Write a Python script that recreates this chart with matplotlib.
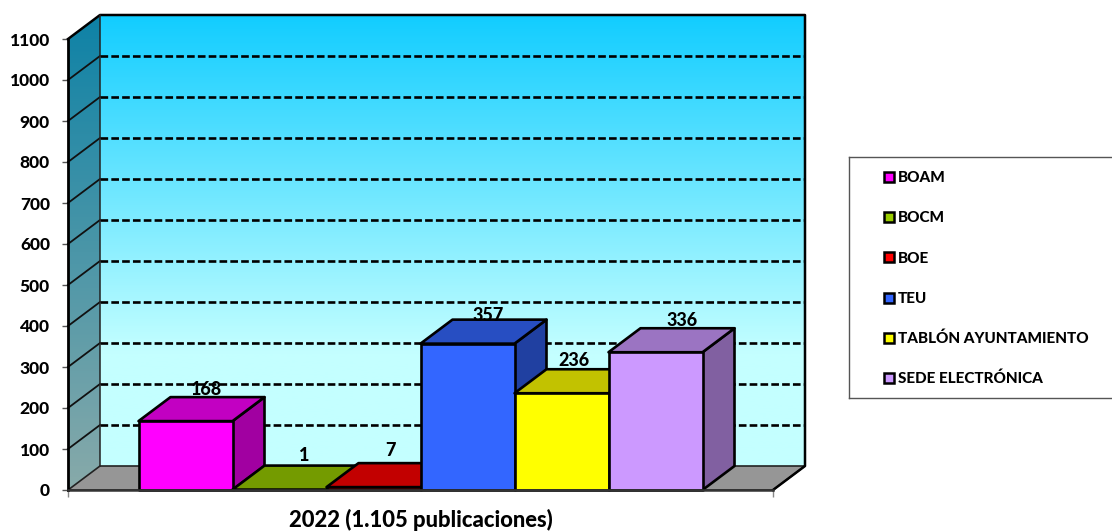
import numpy as np
import matplotlib
matplotlib.use("Agg")
import matplotlib.pyplot as plt
from matplotlib.colors import LinearSegmentedColormap, to_rgb
from matplotlib.patches import Polygon, Rectangle

plt.rcParams["font.family"] = ["Lato", "DejaVu Sans"]
plt.rcParams["font.weight"] = 900

CATEGORIES = ["BOAM", "BOCM", "BOE", "TEU", "TABLÓN AYUNTAMIENTO", "SEDE ELECTRÓNICA"]
VALUES = [168, 1, 7, 357, 236, 336]
COLORS = ["#FF00FF", "#99CC00", "#FF0000", "#3366FF", "#FFFF00", "#CC99FF"]
Y_TICKS = list(range(0, 1101, 100))
X_LABEL = "2022 (1.105 publicaciones)"

W, H = 1112, 531
YMAX = 1100
XMAX = 7.5       # six bars plus a margin of 0.75 on each side
DX = 32 / 94     # depth of the 3D effect, in data units
DY = 24 / 0.41
LABEL_NUDGE = [0.22, 0.26, 0.18, 0.22, 0.13, 0.28]
LABEL_LIFT = [18, 25, 30, 11, 22, 18]


def shade(color, k):
    return tuple(c * k for c in to_rgb(color))


def draw_walls(ax):
    back = LinearSegmentedColormap.from_list(
        "back", [(0, "#C4FFFF"), (0.25, "#C4FFFF"), (1, "#12CDFF")])
    side = LinearSegmentedColormap.from_list("side", ["#88AAAA", "#0E82A6"])
    grad = np.linspace(1, 0, 256).reshape(-1, 1)

    ax.imshow(grad, cmap=back, aspect="auto", zorder=1, clip_on=False,
              extent=(DX, XMAX + DX, DY, YMAX + DY))
    im = ax.imshow(grad, cmap=side, aspect="auto", zorder=1,
                   extent=(0, DX, 0, YMAX + DY))
    im.set_clip_box(ax.figure.bbox)
    im.set_clip_path(Polygon([(0, 0), (DX, DY), (DX, YMAX + DY), (0, YMAX)],
                             transform=ax.transData))
    ax.add_patch(Polygon([(0, 0), (DX, DY), (XMAX + DX, DY), (XMAX, 0)], closed=True,
                         facecolor="#969696", edgecolor="#222222", lw=1.2,
                         zorder=1.5, clip_on=False))

    for v in Y_TICKS[1:-1]:
        ax.plot([DX, XMAX + DX], [v + DY, v + DY], color="black", lw=1.9,
                ls=(0, (2.9, 1.2)), zorder=2, clip_on=False)
    for v in Y_TICKS[1:-1]:
        ax.plot([0, DX], [v, v + DY], color="#111111", lw=1.3, zorder=2, clip_on=False)

    ax.plot([0, DX, XMAX + DX, XMAX + DX, XMAX],
            [YMAX, YMAX + DY, YMAX + DY, DY, 0],
            color="black", lw=1.8, zorder=2.5, clip_on=False)
    ax.plot([DX, DX], [DY, YMAX + DY], color="#222222", lw=1.1, zorder=2.5, clip_on=False)


def draw_bars(ax):
    edge = dict(edgecolor="black", lw=1.9, joinstyle="round", clip_on=False)
    for i, (val, col) in enumerate(zip(VALUES, COLORS)):
        x0, x1 = 0.75 + i, 1.75 + i
        z = 3 + i
        ax.add_patch(Polygon([(x1, 0), (x1 + DX, DY), (x1 + DX, val + DY), (x1, val)],
                             facecolor=shade(col, 0.63), zorder=z, **edge))
        ax.add_patch(Polygon([(x0, val), (x0 + DX, val + DY), (x1 + DX, val + DY), (x1, val)],
                             facecolor=shade(col, 0.76), zorder=z, **edge))
        ax.add_patch(Rectangle((x0, 0), 1, val, facecolor=col, zorder=z + 0.5, **edge))
    for i, val in enumerate(VALUES):
        ax.text(1.25 + i + LABEL_NUDGE[i], val + DY + LABEL_LIFT[i], str(val),
                ha="center", va="center", fontsize=13, color="black", zorder=12, clip_on=False)


def draw_legend(fig):
    lax = fig.add_axes([849 / W, (H - 398) / H, (W + 20 - 849) / W, 241 / H])
    lax.set_xlim(849, W + 20)
    lax.set_ylim(len(CATEGORIES), 0)
    lax.set_xticks([])
    lax.set_yticks([])
    for s in lax.spines.values():
        s.set_color("#555555")
        s.set_linewidth(1.0)
    for i, (name, col) in enumerate(zip(CATEGORIES, COLORS)):
        lax.plot(889, i + 0.5, marker="s", ms=7, mfc=col, mec="black", mew=1.8)
        lax.text(898, i + 0.53, name, va="center", ha="left", fontsize=11)


def main():
    fig = plt.figure(figsize=(W / 100, H / 100), dpi=100, facecolor="white")
    ax = fig.add_axes([68 / W, (H - 490) / H, 705 / W, 451 / H])
    draw_walls(ax)
    draw_bars(ax)
    ax.set_xlim(0, XMAX)
    ax.set_ylim(0, YMAX)
    ax.patch.set_visible(False)

    ax.set_yticks(Y_TICKS)
    ax.set_yticklabels([str(v) for v in Y_TICKS], fontsize=12.5)
    ax.set_xticks([0, XMAX])
    ax.set_xticklabels(["", ""])
    ax.tick_params(axis="y", length=4, width=1.0, color="#555555", pad=9)
    ax.tick_params(axis="x", length=5, width=1.0, color="#888888")
    for name in ("top", "right"):
        ax.spines[name].set_visible(False)
    ax.spines["left"].set_linewidth(2.0)
    ax.spines["left"].set_zorder(11)
    ax.spines["bottom"].set_linewidth(1.8)
    ax.spines["bottom"].set_color("#333333")
    ax.spines["bottom"].set_zorder(11)
    ax.set_xlabel(X_LABEL, fontsize=15.8, fontweight=900, labelpad=5)

    draw_legend(fig)
    fig.savefig("out.png", dpi=100)
    plt.close(fig)


if __name__ == "__main__":
    main()
